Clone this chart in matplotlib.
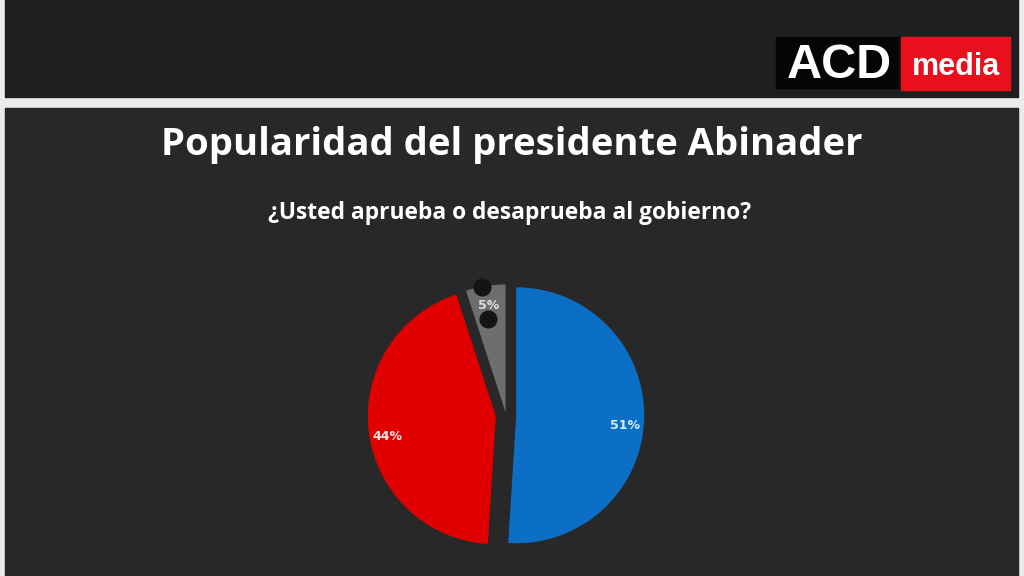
import matplotlib.pyplot as plt
from matplotlib.patches import Rectangle
import numpy as np

TITLE = "Popularidad del presidente Abinader"
SUBTITLE = "¿Usted aprueba o desaprueba al gobierno?"

labels = ["Aprueba", "Desaprueba", "NS/NR"]
shares = [51, 44, 5]
colors = ["#0b6fc6", "#e10000", "#6e6e6e"]
label_colors = ["#d6ecf7", "#f6e6e6", "#e0e0e0"]

W, H = 1024, 576
fig = plt.figure(figsize=(W / 100, H / 100), dpi=100)
fig.patch.set_facecolor("#ececec")

# background panels, in pixel-like figure coords
bg = fig.add_axes([0, 0, 1, 1])
bg.set_xlim(0, W)
bg.set_ylim(H, 0)
bg.axis("off")
bg.add_patch(Rectangle((5, 0), 1013, 97, color="#1f1f1f"))
bg.add_patch(Rectangle((5, 108), 1013, 470, color="#282828"))

# logo
bg.add_patch(Rectangle((776, 37), 126, 51, color="#050505"))
bg.add_patch(Rectangle((901, 37), 109, 53, color="#e8101c"))
bg.text(839, 65, "ACD", color="white", fontsize=35, fontweight="bold",
        ha="center", va="center", family="Liberation Sans")
bg.text(956, 67, "media", color="white", fontsize=22, fontweight="bold",
        ha="center", va="center", family="Liberation Sans")

bg.text(512, 145, TITLE, color="white", fontsize=27.5, fontweight="bold",
        ha="center", va="center", family="Open Sans")
bg.text(510, 213, SUBTITLE, color="white", fontsize=16.4, fontweight="bold",
        ha="center", va="center", family="Open Sans")

# pie axes: 1 data unit = 128 px
R = 128
half = 1.25 * R
cx, cy = 506, 415
ax = fig.add_axes([(cx - half) / W, (H - cy - half) / H, 2 * half / W, 2 * half / H])
ax.set_xlim(-1.25, 1.25)
ax.set_ylim(-1.25, 1.25)
ax.set_aspect("equal")
ax.axis("off")

wedges, texts, autotexts = ax.pie(
    shares,
    colors=colors,
    startangle=90,
    counterclock=False,
    explode=[0.08, 0.08, 0.02],
    autopct="%d%%",
    pctdistance=0.85,
    radius=1,
    textprops={"fontsize": 9, "fontweight": "bold"},
)
for i, (t, c) in enumerate(zip(autotexts, label_colors)):
    t.set_color(c)
    t.set_zorder(6)
    if i < 2:
        x, y = t.get_position()
        t.set_position((x, y - 0.05))

# dark leader dots over the small slice
w = wedges[2]
mid = np.deg2rad((w.theta1 + w.theta2) / 2 + 1.5)
ox, oy = w.center
for r in (1.0, 0.74):
    ax.plot(ox + r * np.cos(mid), oy + r * np.sin(mid), "o",
            color="#141414", markersize=12, zorder=5)

fig.savefig("out.png", dpi=100, facecolor=fig.get_facecolor())
